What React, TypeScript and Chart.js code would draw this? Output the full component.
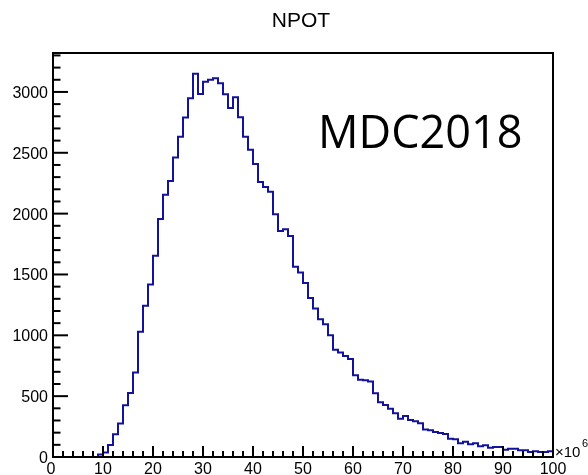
import React, { useEffect, useRef } from "react";
import { Chart, registerables } from "chart.js";

Chart.register(...registerables);

// Histogram "NPOT": 100 bins of width 1 (x10^6), from 0 to 100
const binLowEdges: number[] = Array.from({ length: 100 }, (_, i) => i);
const counts: number[] = [
  0, 0, 0, 0, 0, 0, 0, 0, 0, 20,
  38, 98, 186, 276, 426, 525, 694, 1030, 1243, 1418,
  1653, 1956, 2156, 2268, 2462, 2631, 2789, 2948, 3150, 2983,
  3083, 3100, 3113, 3072, 2982, 2868, 2956, 2792, 2631, 2524,
  2407, 2259, 2218, 2180, 1994, 1858, 1871, 1817, 1563, 1516,
  1429, 1306, 1221, 1131, 1090, 1000, 882, 858, 831, 806,
  672, 634, 630, 620, 524, 450, 427, 397, 359, 315,
  337, 304, 293, 277, 225, 219, 205, 197, 189, 151,
  145, 112, 126, 104, 112, 88, 96, 77, 82, 82,
  60, 68, 68, 55, 55, 41, 47, 41, 41, 47,
];
const xUpperEdge = 100;
const xTickLabels: string[] = ["0", "10", "20", "30", "40", "50", "60", "70", "80", "90", "100"];
const yTickLabels: string[] = ["0", "500", "1000", "1500", "2000", "2500", "3000"];
const yMax = 3320;
const title = "NPOT";
const annotation = "MDC2018";

const W = 588;
const H = 475;

const rootStylePlugin = {
  id: "rootStyle",
  afterDatasetsDraw(chart: any) {
    const ctx: CanvasRenderingContext2D = chart.ctx;
    const xs = chart.scales.x;
    const ys = chart.scales.y;
    const { left, right, top, bottom } = chart.chartArea;
    ctx.save();
    ctx.strokeStyle = "#000";
    ctx.fillStyle = "#000";
    // frame
    ctx.lineWidth = 2;
    ctx.strokeRect(left, top, right - left, bottom - top);

    // x ticks
    ctx.lineWidth = 2;
    const xVals = xTickLabels.map(Number);
    const xStep = xVals[1] - xVals[0];
    for (let i = 0; i < xVals.length; i++) {
      const px = xs.getPixelForValue(xVals[i]);
      ctx.beginPath();
      ctx.moveTo(px, bottom);
      ctx.lineTo(px, bottom - 11);
      ctx.stroke();
      if (i < xVals.length - 1) {
        for (let m = 1; m < 5; m++) {
          const mx = xs.getPixelForValue(xVals[i] + (m * xStep) / 5);
          ctx.beginPath();
          ctx.moveTo(mx, bottom);
          ctx.lineTo(mx, bottom - 6);
          ctx.stroke();
        }
      }
    }
    // y ticks
    const yVals = yTickLabels.map(Number);
    const yStep = yVals[1] - yVals[0];
    for (let v = 0; v <= yMax; v += yStep / 5) {
      const py = ys.getPixelForValue(v);
      const major = Math.abs(v % yStep) < 1e-6;
      ctx.beginPath();
      ctx.moveTo(left, py);
      ctx.lineTo(left + (major ? 15 : 7.5), py);
      ctx.stroke();
    }

    // labels
    ctx.font = "16px 'Liberation Sans', Arial, sans-serif";
    ctx.textBaseline = "alphabetic";
    ctx.textAlign = "right";
    for (const lab of yTickLabels) {
      const py = ys.getPixelForValue(Number(lab));
      ctx.fillText(lab, left - 5, py + 6);
    }
    ctx.textAlign = "center";
    for (const lab of xTickLabels) {
      const px = xs.getPixelForValue(Number(lab));
      ctx.fillText(lab, px - (lab === "0" ? 2 : 0), bottom + 17);
    }
    // x10^6
    ctx.textAlign = "left";
    ctx.font = "15px 'Liberation Sans', Arial, sans-serif";
    ctx.fillText("\u00d710", right + 2, bottom);
    ctx.font = "11px 'Liberation Sans', Arial, sans-serif";
    ctx.fillText("6", right + 29, bottom - 10);

    // title
    ctx.textAlign = "center";
    ctx.font = "21px 'Liberation Sans', Arial, sans-serif";
    ctx.fillText(title, 301, 27);

    // annotation
    ctx.textAlign = "left";
    ctx.font = "45px 'Open Sans', sans-serif";
    ctx.fillText(annotation, 318, 148);
    ctx.restore();
  },
};

export default function App() {
  const ref = useRef<HTMLCanvasElement | null>(null);
  useEffect(() => {
    if (!ref.current) return;
    const points = binLowEdges.map((x, i) => ({ x, y: counts[i] }));
    points.push({ x: xUpperEdge, y: counts[counts.length - 1] });
    const chart = new Chart(ref.current, {
      type: "line",
      data: {
        datasets: [
          {
            data: points,
            stepped: "before",
            borderColor: "#12129a",
            borderWidth: 2,
            pointRadius: 0,
            fill: false,
          },
        ],
      },
      options: {
        animation: false,
        responsive: false,
        maintainAspectRatio: false,
        layout: { padding: { left: 53, right: W - 553, top: 53, bottom: H - 457 } },
        plugins: { legend: { display: false }, tooltip: { enabled: false }, title: { display: false } },
        scales: {
          x: { type: "linear", min: 0, max: 100, display: false },
          y: { type: "linear", min: 0, max: yMax, display: false },
        },
      },
      plugins: [rootStylePlugin],
    });
    return () => chart.destroy();
  }, []);
  return (
    <div style={{ position: "absolute", left: 0, top: 0, width: W, height: H, background: "#fff" }}>
      <canvas ref={ref} width={W} height={H} style={{ width: W, height: H }} />
    </div>
  );
}
